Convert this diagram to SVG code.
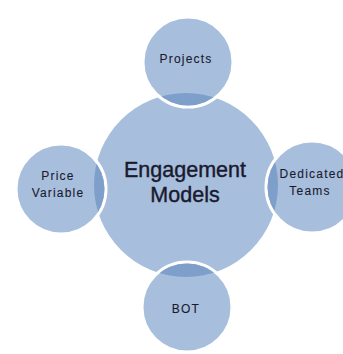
<svg xmlns="http://www.w3.org/2000/svg" width="343" height="354" viewBox="0 0 343 354">
<style>
.c{fill:#a7bfdd}
.s{fill:#a7bfdd;stroke:#ffffff;stroke-width:3}
.ov{fill:#7f9fcb}
.t{font-family:"Liberation Sans",Arial,sans-serif;fill:#1a1a2e;stroke:#1a1a2e;text-anchor:middle}
.sm{font-size:12px;letter-spacing:1.2px;stroke-width:0.1}
.lg{font-size:21.5px;stroke-width:0.4}
</style>
<defs>
<clipPath id="mainClip"><circle cx="186" cy="185" r="92"/></clipPath>
</defs>
<rect width="343" height="354" fill="#ffffff"/>
<g id="center">
<circle class="c" cx="186" cy="185" r="92"/>
<text class="t lg" x="185" y="177">Engagement</text>
<text class="t lg" x="185" y="202">Models</text>
</g>
<g id="projects">
<circle class="s" cx="188" cy="62" r="45"/>
<circle class="ov" cx="188" cy="62" r="43.5" clip-path="url(#mainClip)"/>
<text class="t sm" x="186" y="63">Projects</text>
</g>
<g id="dedicated-teams">
<circle class="s" cx="312" cy="187" r="46"/>
<circle class="ov" cx="312" cy="187" r="44.5" clip-path="url(#mainClip)"/>
<text class="t sm" x="312" y="178">Dedicated</text>
<text class="t sm" x="310" y="195">Teams</text>
</g>
<g id="price-variable">
<circle class="s" cx="61" cy="189" r="45"/>
<circle class="ov" cx="61" cy="189" r="43.5" clip-path="url(#mainClip)"/>
<text class="t sm" x="58" y="180">Price</text>
<text class="t sm" x="58" y="197">Variable</text>
</g>
<g id="bot">
<circle class="s" cx="187" cy="307" r="45"/>
<circle class="ov" cx="187" cy="307" r="43.5" clip-path="url(#mainClip)"/>
<text class="t sm" x="186" y="313">BOT</text>
</g>
<g id="connectors"/>
</svg>
